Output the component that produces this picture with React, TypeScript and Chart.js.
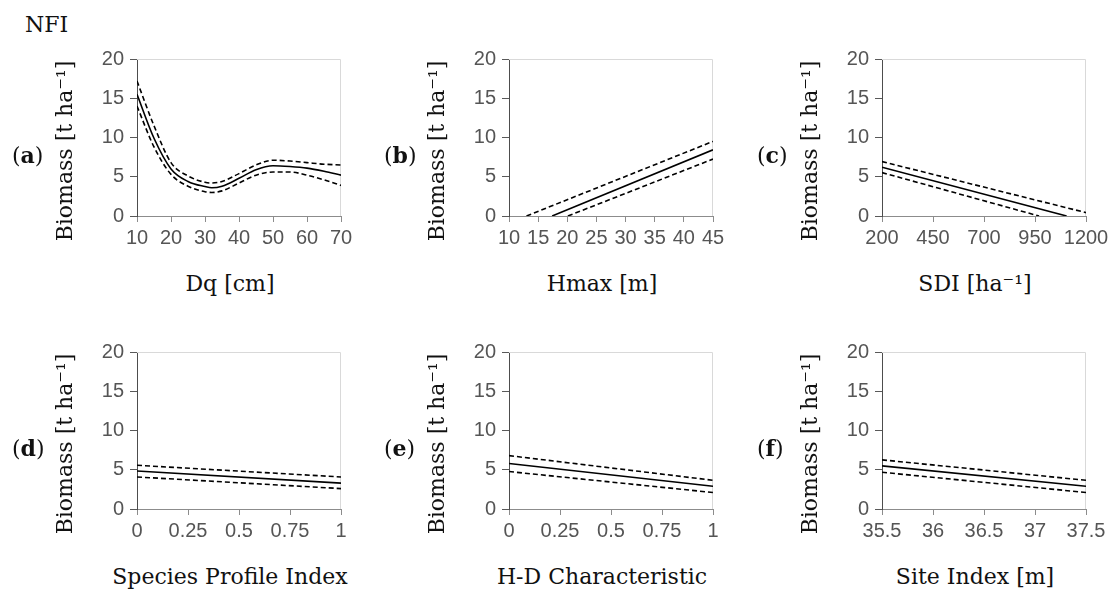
import React, { useEffect, useRef } from "react";
import { Chart, registerables } from "chart.js";
Chart.register(...registerables);

// ---------- data ----------
const yTicks = [0, 5, 10, 15, 20];

// (a) Dq [cm]
const dqTicks = [10, 20, 30, 40, 50, 60, 70];
const dqX = [10, 15, 20, 25, 30, 32, 35, 40, 45, 50, 55, 60, 65, 70];
const dqFit = [15.5, 9.9, 6.0, 4.4, 3.75, 3.6, 3.8, 4.8, 5.9, 6.4, 6.3, 6.1, 5.7, 5.2];
const dqUpper = [17.2, 11.5, 6.8, 5.1, 4.3, 4.2, 4.4, 5.4, 6.5, 7.1, 7.0, 6.8, 6.6, 6.5];
const dqLower = [14.0, 8.8, 5.3, 3.8, 3.1, 3.0, 3.2, 4.2, 5.2, 5.6, 5.6, 5.2, 4.6, 3.9];

// (b) Hmax [m]
const hmaxTicks = [10, 15, 20, 25, 30, 35, 40, 45];
const hmaxFitX = [17.4, 45];
const hmaxFit = [0, 8.43];
const hmaxUpperX = [13.0, 45];
const hmaxUpper = [0, 9.5];
const hmaxLowerX = [20.1, 45];
const hmaxLower = [0, 7.25];

// (c) SDI [ha-1]
const sdiTicks = [200, 450, 700, 950, 1200];
const sdiFitX = [200, 1105];
const sdiFit = [6.21, 0];
const sdiUpperX = [200, 1200];
const sdiUpper = [6.93, 0.43];
const sdiLowerX = [200, 970];
const sdiLower = [5.53, 0];

// (d) Species Profile Index
const spiTicks = [0, 0.25, 0.5, 0.75, 1];
const spiX = [0, 1];
const spiFit = [4.85, 3.3];
const spiUpper = [5.57, 4.08];
const spiLower = [4.08, 2.6];

// (e) H-D Characteristic
const hdTicks = [0, 0.25, 0.5, 0.75, 1];
const hdX = [0, 1];
const hdFit = [5.8, 2.9];
const hdUpper = [6.8, 3.66];
const hdLower = [4.77, 2.1];

// (f) Site Index [m]
const siTicks = [35.5, 36, 36.5, 37, 37.5];
const siX = [35.5, 37.5];
const siFit = [5.5, 2.9];
const siUpper = [6.26, 3.66];
const siLower = [4.68, 2.1];

// ---------- layout ----------
const COL_LEFT = [137, 509, 882];
const ROW_TOP = [59, 352];
const PW = 204;
const PH = 157;
const CL = 64;
const CT = 14;
const CR = 30;
const CB = 40;
const SERIF = '"DejaVu Serif", serif';
const SANS = '"Liberation Sans", Arial, sans-serif';

type Series = { xs: number[]; ys: number[]; dashed: boolean; smooth?: boolean };
type PanelSpec = {
  letter: string;
  xTitle: string;
  xTicks: number[];
  series: Series[];
  col: number;
  row: number;
};

const panels: PanelSpec[] = [
  {
    letter: "a", xTitle: "Dq [cm]", xTicks: dqTicks, col: 0, row: 0,
    series: [
      { xs: dqX, ys: dqUpper, dashed: true, smooth: true },
      { xs: dqX, ys: dqFit, dashed: false, smooth: true },
      { xs: dqX, ys: dqLower, dashed: true, smooth: true },
    ],
  },
  {
    letter: "b", xTitle: "Hmax [m]", xTicks: hmaxTicks, col: 1, row: 0,
    series: [
      { xs: hmaxUpperX, ys: hmaxUpper, dashed: true },
      { xs: hmaxFitX, ys: hmaxFit, dashed: false },
      { xs: hmaxLowerX, ys: hmaxLower, dashed: true },
    ],
  },
  {
    letter: "c", xTitle: "SDI [ha\u207B\u00B9]", xTicks: sdiTicks, col: 2, row: 0,
    series: [
      { xs: sdiUpperX, ys: sdiUpper, dashed: true },
      { xs: sdiFitX, ys: sdiFit, dashed: false },
      { xs: sdiLowerX, ys: sdiLower, dashed: true },
    ],
  },
  {
    letter: "d", xTitle: "Species Profile Index", xTicks: spiTicks, col: 0, row: 1,
    series: [
      { xs: spiX, ys: spiUpper, dashed: true },
      { xs: spiX, ys: spiFit, dashed: false },
      { xs: spiX, ys: spiLower, dashed: true },
    ],
  },
  {
    letter: "e", xTitle: "H-D Characteristic", xTicks: hdTicks, col: 1, row: 1,
    series: [
      { xs: hdX, ys: hdUpper, dashed: true },
      { xs: hdX, ys: hdFit, dashed: false },
      { xs: hdX, ys: hdLower, dashed: true },
    ],
  },
  {
    letter: "f", xTitle: "Site Index [m]", xTicks: siTicks, col: 2, row: 1,
    series: [
      { xs: siX, ys: siUpper, dashed: true },
      { xs: siX, ys: siFit, dashed: false },
      { xs: siX, ys: siLower, dashed: true },
    ],
  },
];

const framePlugin = {
  id: "frame",
  beforeDatasetsDraw(chart: any) {
    const { ctx, chartArea } = chart;
    const { left, top, right, bottom } = chartArea;
    ctx.save();
    ctx.strokeStyle = "#d9d9d9";
    ctx.lineWidth = 1;
    ctx.beginPath();
    ctx.moveTo(left, Math.round(top) + 0.5);
    ctx.lineTo(Math.round(right) - 0.5, Math.round(top) + 0.5);
    ctx.lineTo(Math.round(right) - 0.5, bottom);
    ctx.stroke();
    ctx.restore();
  },
};

function Panel({ spec }: { spec: PanelSpec }) {
  const ref = useRef<HTMLCanvasElement | null>(null);
  const plotLeft = COL_LEFT[spec.col];
  const plotTop = ROW_TOP[spec.row];
  const W = CL + PW + CR;
  const H = CT + PH + CB;

  useEffect(() => {
    if (!ref.current) return;
    const xt = spec.xTicks;
    const chart = new Chart(ref.current, {
      type: "line",
      data: {
        datasets: spec.series.map((s) => ({
          data: s.xs.map((x, i) => ({ x, y: s.ys[i] })),
          borderColor: "#000",
          borderWidth: 1.6,
          borderDash: s.dashed ? [5, 3] : [],
          pointRadius: 0,
          fill: false,
          tension: 0,
          cubicInterpolationMode: s.smooth ? "monotone" : "default",
        })),
      },
      options: {
        responsive: false,
        maintainAspectRatio: false,
        animation: false,
        layout: { padding: { left: 0, top: CT, right: CR, bottom: 0 } },
        plugins: { legend: { display: false }, tooltip: { enabled: false } },
        scales: {
          x: {
            type: "linear",
            min: xt[0],
            max: xt[xt.length - 1],
            afterBuildTicks: (s: any) => {
              s.ticks = xt.map((v) => ({ value: v }));
            },
            afterFit: (s: any) => {
              s.height = CB;
              s.paddingLeft = 0;
              s.paddingRight = 0;
            },
            grid: { drawOnChartArea: false, drawTicks: true, tickLength: 6, color: "#8c8c8c" },
            border: { display: true, color: "#8c8c8c", width: 1 },
            ticks: {
              padding: 4,
              color: "#555555",
              font: { family: SANS, size: 20 },
              maxRotation: 0,
              minRotation: 0,
              autoSkip: false,
              callback: (v: any) => String(v),
            },
          },
          y: {
            type: "linear",
            min: 0,
            max: 20,
            afterBuildTicks: (s: any) => {
              s.ticks = yTicks.map((v) => ({ value: v }));
            },
            afterFit: (s: any) => {
              s.width = CL;
              s.paddingTop = 0;
              s.paddingBottom = 0;
            },
            grid: { drawOnChartArea: false, drawTicks: true, tickLength: 7, color: "#595959" },
            border: { display: true, color: "#4d4d4d", width: 1 },
            ticks: {
              padding: 6,
              color: "#555555",
              font: { family: SANS, size: 20 },
              autoSkip: false,
              callback: (v: any) => String(v),
            },
          },
        },
      },
      plugins: [framePlugin],
    } as any);
    return () => chart.destroy();
  }, [spec]);

  const textBase: React.CSSProperties = {
    position: "absolute",
    fontFamily: SERIF,
    fontSize: 22,
    lineHeight: 1,
    whiteSpace: "nowrap",
    color: "#111",
  };

  return (
    <>
      <canvas
        ref={ref}
        width={W}
        height={H}
        style={{ position: "absolute", left: plotLeft - CL, top: plotTop - CT, width: W, height: H }}
      />
      <div
        style={{
          ...textBase,
          left: plotLeft - 72,
          top: plotTop + 92,
          transform: "translate(-50%, -50%) rotate(-90deg)",
        }}
      >
        Biomass [t ha{"\u207B\u00B9"}]
      </div>
      <div
        style={{
          ...textBase,
          left: plotLeft + PW / 2 - 9,
          top: plotTop + PH + 57,
          transform: "translateX(-50%)",
        }}
      >
        {spec.xTitle}
      </div>
      <div style={{ ...textBase, left: plotLeft - 125, top: plotTop + 85 }}>
        (<b>{spec.letter}</b>)
      </div>
    </>
  );
}

export default function App() {
  return (
    <div
      style={{
        position: "absolute",
        left: 0,
        top: 0,
        width: 1112,
        height: 589,
        background: "#fff",
        overflow: "hidden",
      }}
    >
      <div
        style={{
          position: "absolute",
          left: 25,
          top: 14,
          fontFamily: SERIF,
          fontSize: 22,
          lineHeight: 1,
          color: "#111",
        }}
      >
        NFI
      </div>
      {panels.map((p) => (
        <Panel key={p.letter} spec={p} />
      ))}
    </div>
  );
}
